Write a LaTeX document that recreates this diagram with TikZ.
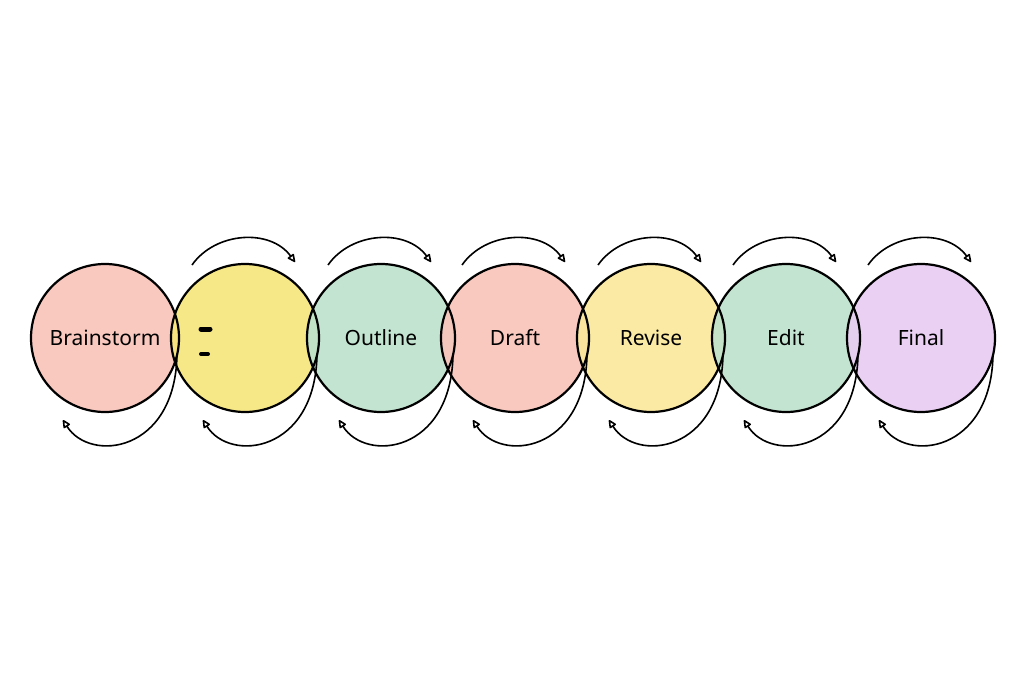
\documentclass[tikz,border=0pt]{standalone}
\usepackage{fontspec}
\setmainfont{Noto Sans}
\usetikzlibrary{calc,arrows.meta}
\definecolor{cpink}{HTML}{F9C4BA}
\definecolor{cyel}{HTML}{F7E67A}
\definecolor{cyel2}{HTML}{FBE89A}
\definecolor{cgreen}{HTML}{BDE2CC}
\definecolor{cpurp}{HTML}{E8CDF3}
\tikzset{
  stage/.style={circle,minimum size=148pt,inner sep=0pt,font=\fontsize{21pt}{24pt}\selectfont},
  ring/.style={line width=2.2pt},
  loop/.style={line width=1.6pt,-{Stealth[length=9pt,width=8pt,inset=0pt,open,round]}},
}
\begin{document}
\begin{tikzpicture}[x=1pt,y=-1pt]
\useasboundingbox[fill=white] (0,0) rectangle (1024,682);
\foreach \n/\x/\c/\t in {a/105/cpink/Brainstorm,b/245/cyel/{},c/381/cgreen/Outline,d/515/cpink/Draft,e/651/cyel2/Revise,f/786/cgreen/Edit,g/921/cpurp/Final}{
  \node[stage,fill=\c,fill opacity=0.9,text opacity=1] (\n) at (\x,338) {\t};
}
\foreach \n in {a,b,c,d,e,f,g}{ \draw[ring] (\n) circle[radius=74]; }
\draw[line width=5pt,line cap=round] ($(b)+(-44,-9)$) -- ($(b)+(-35,-9)$);
\draw[line width=4pt,line cap=round] ($(b)+(-44,16)$) -- ($(b)+(-37,16)$);
\foreach \n in {b,c,d,e,f,g}{
  \draw[loop] ($(\n)+(-53,-73)$) .. controls ($(\n)+(-30,-106)$) and ($(\n)+(25,-110)$) .. ($(\n)+(50,-76)$);
}
\foreach \n in {a,b,c,d,e,f,g}{
  \draw[loop] ($(\n)+(72,17)$) .. controls ($(\n)+(70,115)$) and ($(\n)+(-15,125)$) .. ($(\n)+(-42,82)$);
}
\end{tikzpicture}
\end{document}
